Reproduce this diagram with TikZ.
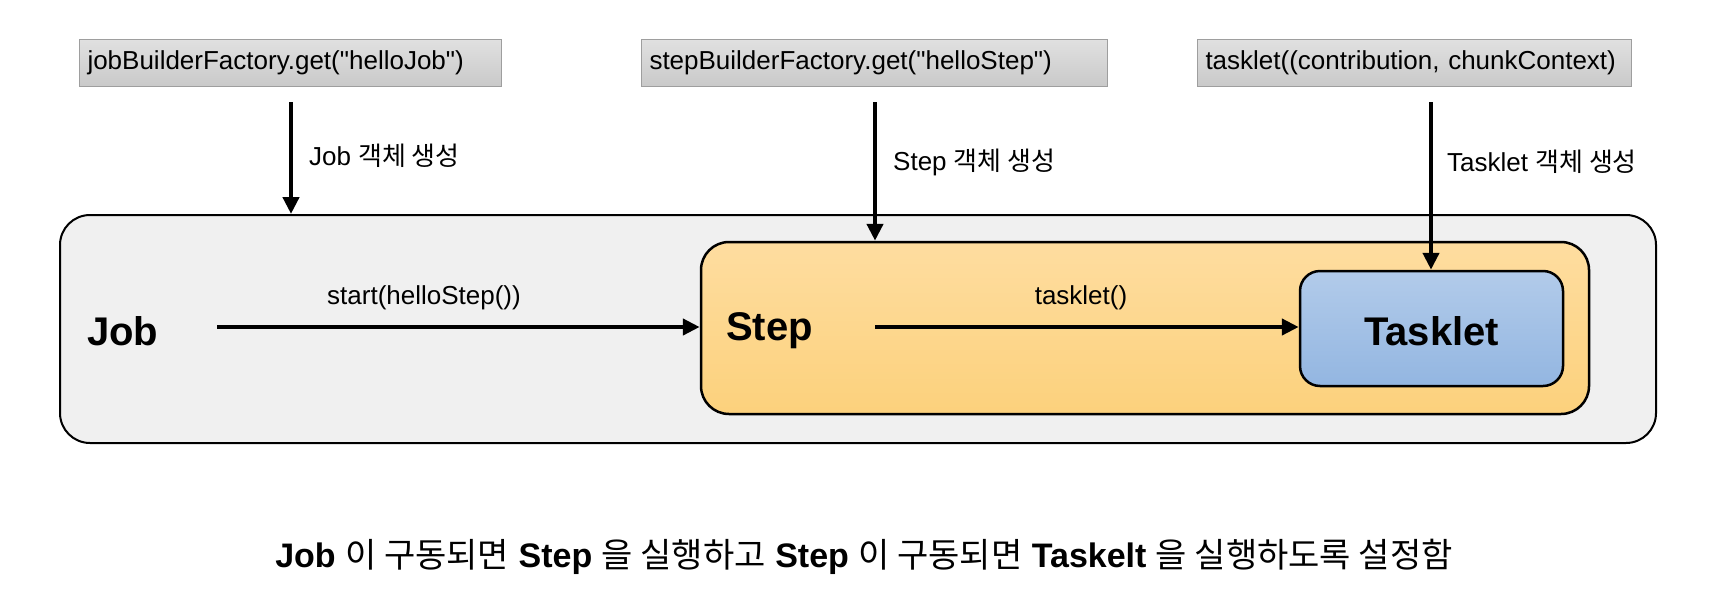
\documentclass[tikz,border=0pt]{standalone}
\usepackage{fontspec}
\setmainfont{Liberation Sans}
\newfontfamily\kr{Noto Sans CJK KR}
\usetikzlibrary{arrows.meta}
\tikzset{
  topbox/.style={draw=black!38, line width=1pt, top color=black!12, bottom color=black!21,
    minimum height=47pt, inner xsep=8pt, inner ysep=0pt, align=left, anchor=west,
    font=\fontsize{26}{30}\selectfont},
  lbl/.style={font=\fontsize{26}{30}\selectfont, inner sep=0pt},
  big/.style={font=\bfseries\fontsize{40}{46}\selectfont, inner sep=0pt},
  arr/.style={line width=4.5pt, -{Triangle[length=17pt,width=16pt]}},
}
\begin{document}
\begin{tikzpicture}[x=1pt,y=-1pt]
\useasboundingbox (0,0) rectangle (1728,608);
% top boxes
\node[topbox, text width=406pt] (jb) at (79,62.5) {jobBuilderFactory.get(\textquotedbl helloJob\textquotedbl)};
\node[topbox, text width=450pt] (sb) at (641,62.5) {stepBuilderFactory.get(\textquotedbl helloStep\textquotedbl)};
\node[topbox, text width=418pt] (tb) at (1197,62.5) {tasklet((contribution, chunkContext)};
% containers
\node[draw=black, line width=2pt, fill=black!6, rounded corners=30pt,
      minimum width=1596pt, minimum height=228pt, inner sep=0pt] (job) at (858,329) {};
\node[draw=black, line width=2.5pt, top color={rgb,255:red,254;green,221;blue,160},
      bottom color={rgb,255:red,252;green,209;blue,124}, rounded corners=28pt,
      minimum width=888pt, minimum height=172pt, inner sep=0pt] (step) at (1145,328) {};
\node[draw=black, line width=2.5pt, top color={rgb,255:red,178;green,203;blue,234},
      bottom color={rgb,255:red,147;green,182;blue,225}, rounded corners=20pt,
      minimum width=263pt, minimum height=115pt, inner sep=0pt] (task) at (1431.5,328.5) {};
% big labels
\node[big, anchor=west] (jobt) at (87,331) {Job};
\node[big, anchor=west] (stept) at (726,331) {Step};
\node[big] (taskt) at (1431.5,331) {Tasklet};
% vertical arrows
\coordinate (a1) at (291,102);
\coordinate (a2) at (875,102);
\coordinate (a3) at (1431,102);
\draw[arr] (a1) -- (a1 |- job.north);
\draw[arr] (a2) -- (a2 |- step.north);
\draw[arr] (a3) -- (a3 |- task.north);
\node[lbl, anchor=west] (l1) at (309,156) {Job {\kr 객체 생성}};
\node[lbl, anchor=west] (l2) at (893,162) {Step {\kr 객체 생성}};
\node[lbl, anchor=west] (l3) at (1447,162) {Tasklet {\kr 객체 생성}};
% horizontal arrows
\coordinate (h1) at (217,327);
\coordinate (h2) at (875,327);
\draw[arr] (h1) -- (h1 -| step.west);
\draw[arr] (h2) -- (h2 -| task.west);
\node[lbl] (s1) at (424,298) {start(helloStep())};
\node[lbl] (s2) at (1081,298) {tasklet()};
% bottom text
\node[inner sep=0pt, font=\fontsize{34}{40}\selectfont] (cap) at (864,557)
  {\textbf{Job} {\kr 이 구동되면} \textbf{Step} {\kr 을 실행하고} \textbf{Step} {\kr 이 구동되면} \textbf{Taskelt} {\kr 을 실행하도록 설정함}};
\end{tikzpicture}
\end{document}
